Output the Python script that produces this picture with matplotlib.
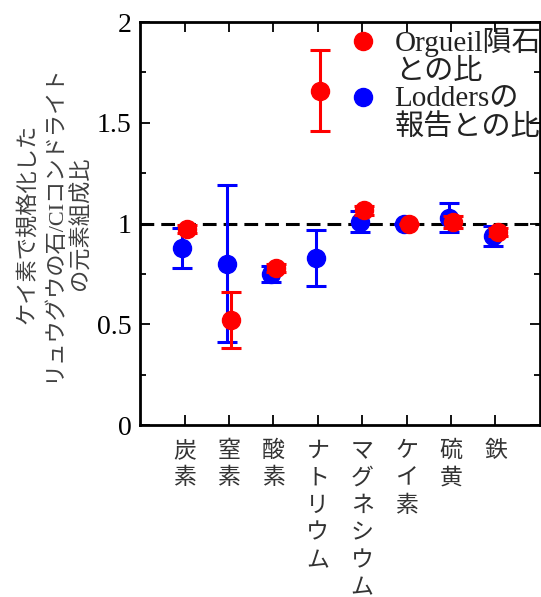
import numpy as np
import matplotlib
matplotlib.use("Agg")
import matplotlib.pyplot as plt
from matplotlib.lines import Line2D
from matplotlib.ticker import MultipleLocator

plt.rcParams['font.family'] = ['Liberation Serif', 'Noto Sans CJK JP', 'DejaVu Sans']

elements = ['炭素', '窒素', '酸素', 'ナトリウム', 'マグネシウム', 'ケイ素', '硫黄', '鉄']

# Lodders との比 (blue)
lodders = [0.88, 0.80, 0.75, 0.83, 1.01, 1.00, 1.03, 0.94]
lodders_err = [0.10, 0.39, 0.04, 0.14, 0.05, 0.0, 0.07, 0.05]

# Orgueil 隕石との比 (red)
orgueil = [0.975, 0.52, 0.78, 1.66, 1.065, 1.00, 1.01, 0.96]
orgueil_err = [0.02, 0.14, 0.02, 0.20, 0.02, 0.0, 0.03, 0.02]

x = np.arange(1, len(elements) + 1)

fig = plt.figure(figsize=(5.41, 5.97), dpi=100)
ax = fig.add_axes([0.259, 0.288, 0.739, 0.675])

ax.axhline(1.0, color='black', linestyle=(0, (4.5, 2.3)), linewidth=2.2, zorder=1)

ax.errorbar(x - 0.05, lodders, yerr=lodders_err, fmt='o', color='blue',
            markersize=13, elinewidth=2.2, capsize=7, capthick=2.2, zorder=2)
ax.errorbar(x + 0.05, orgueil, yerr=orgueil_err, fmt='o', color='red',
            markersize=13, elinewidth=2.2, capsize=7, capthick=2.2, zorder=3)

ax.set_xlim(0, 9)
ax.set_ylim(0, 2)
ax.set_xticks(x)
ax.set_xticklabels(['\n'.join(e) for e in elements], fontsize=16.5,
                   family=['Noto Sans CJK JP'], linespacing=1.25, va='top',
                   color='#333333')
ax.set_yticks([0, 0.5, 1, 1.5, 2])
ax.set_yticklabels(['0', '0.5', '1', '1.5', '2'], fontsize=20)
ax.yaxis.set_minor_locator(MultipleLocator(0.25))

ax.tick_params(which='both', direction='in', top=True, right=True, width=1.3)
ax.tick_params(which='major', length=7)
ax.tick_params(which='minor', length=4)
ax.tick_params(axis='x', pad=10)
ax.tick_params(axis='y', pad=6)
for s in ax.spines.values():
    s.set_linewidth(2)

ax.set_ylabel('ケイ素で規格化した\nリュウグウの石/CIコンドライト\nの元素組成比',
              fontsize=16, color='#404040', linespacing=1.38, labelpad=4)

blank = Line2D([], [], linestyle='none', marker='')
handles = [Line2D([], [], marker='o', linestyle='none', color='red', markersize=13),
           blank,
           Line2D([], [], marker='o', linestyle='none', color='blue', markersize=13),
           blank]
labels = ['Orgueil隕石', 'との比', 'Loddersの', '報告との比']
leg = ax.legend(handles, labels, loc='upper left', bbox_to_anchor=(0.52, 0.985),
                frameon=False, fontsize=21, borderpad=0, borderaxespad=0,
                handletextpad=0.6, labelspacing=0.05, handlelength=1.0)
for t in leg.get_texts():
    t.set_color('#222222')

fig.savefig('out.png', dpi=100)
